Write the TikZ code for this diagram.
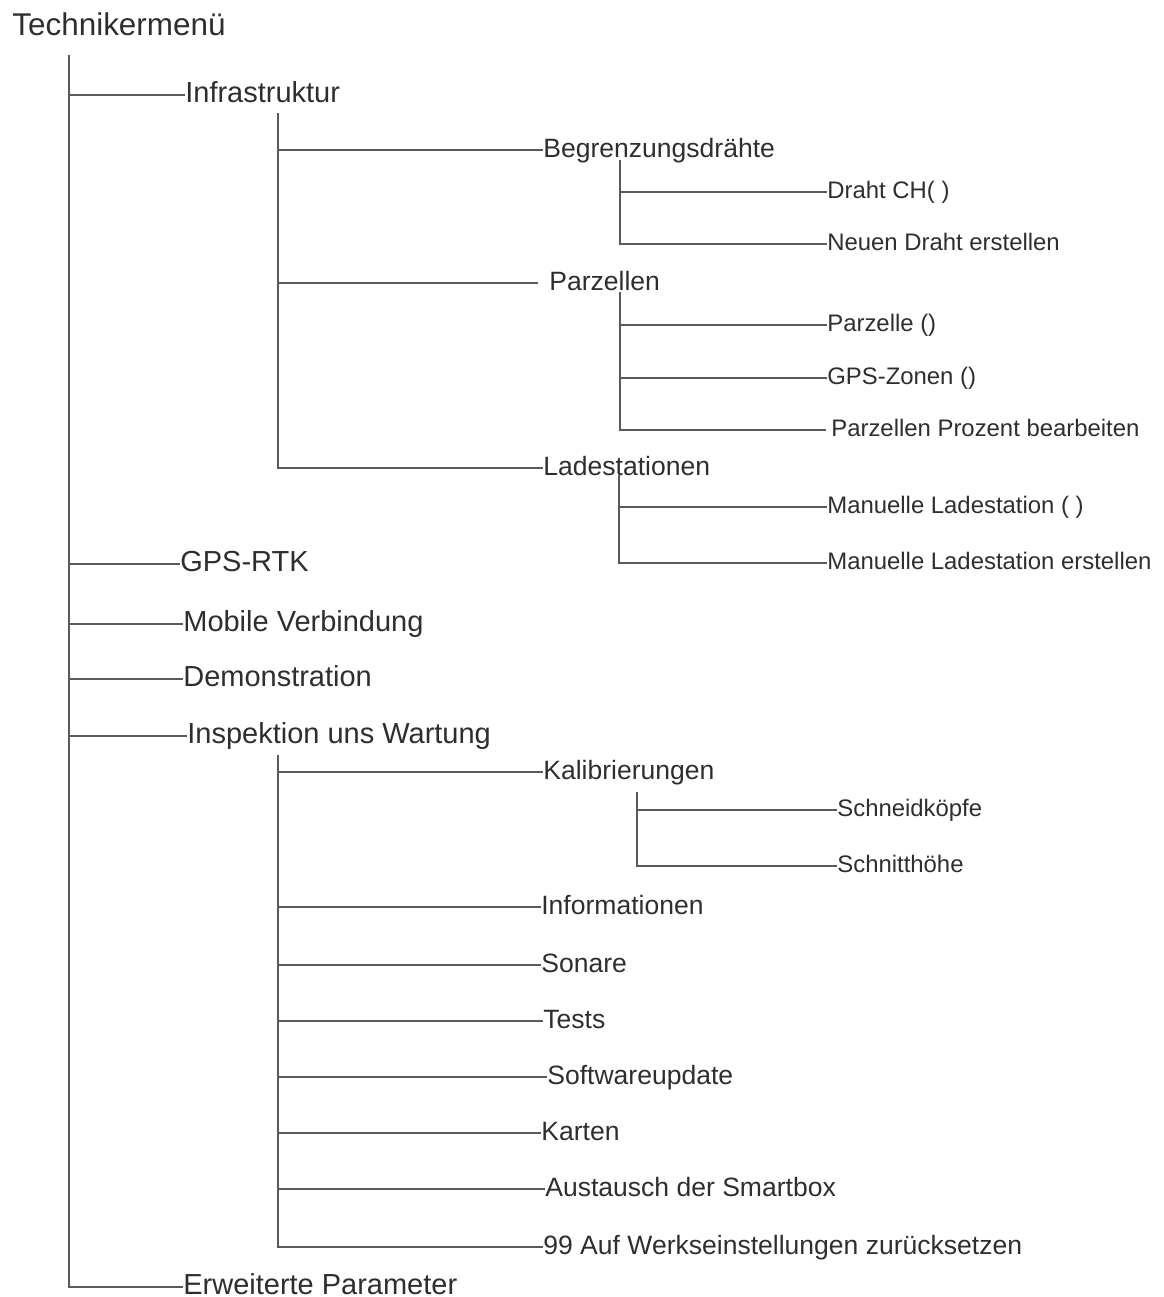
\documentclass[tikz,border=0pt]{standalone}
\usepackage{fontspec}
\setmainfont{Liberation Sans}
\usetikzlibrary{positioning}
\definecolor{menutext}{HTML}{2E2E2E}
\definecolor{menurule}{HTML}{5A5A5A}
\tikzset{
  menubox/.style={anchor=west, inner sep=0, text=menutext, text depth=0pt},
  menutitle/.style={anchor=base west, inner sep=0, text=menutext, font=\fontsize{17.9pt}{20pt}\selectfont},
  menuitem/.style={menubox, text height=9pt, font=\fontsize{16.5pt}{19pt}\selectfont},
  submenu/.style={menubox, text height=8.4pt, font=\fontsize{15.1pt}{18pt}\selectfont},
  menuleaf/.style={menubox, text height=7.5pt, font=\fontsize{13.6pt}{16pt}\selectfont},
  menuline/.style={draw=menurule, line width=0.9pt}
}

\begin{document}
\begin{tikzpicture}[x=0.02cm, y=-0.02cm]
    \useasboundingbox (0,0) rectangle (1163,1297);
    \node[menutitle] (root) at (12,36) {Technikermenü};
    % first level
    \coordinate (t0) at (69,55);
    \node[menuitem] (infra) at (185,95) {Infrastruktur};
    \node[menuitem] (gps) at (180,564) {GPS-RTK};
    \node[menuitem] (mobil) at (183,624) {Mobile Verbindung};
    \node[menuitem] (demo) at (183,679) {Demonstration};
    \node[menuitem] (insp) at (187,736) {Inspektion uns Wartung};
    \node[menuitem] (erw) at (183,1287) {Erweiterte Parameter};
    \foreach \n in {infra,gps,mobil,demo,insp,erw}
      \draw[menuline] (t0) |- (\n.west);
    % Infrastruktur
    \coordinate (t1) at (278,113);
    \node[submenu] (begr) at (543,150) {Begrenzungsdrähte};
    \node[submenu] (parz) at (549,283) {Parzellen};
    \node[submenu] (lade) at (543,468) {Ladestationen};
    \draw[menuline] (t1) |- (begr.west);
    \draw[menuline, shorten >=6pt] (t1) |- (parz.west);
    \draw[menuline] (t1) |- (lade.west);
    \coordinate (t11) at (620,160);
    \node[menuleaf] (draht) at (827,192) {Draht CH( )};
    \node[menuleaf] (neudraht) at (827,244) {Neuen Draht erstellen};
    \foreach \n in {draht,neudraht}
      \draw[menuline] (t11) |- (\n.west);
    \coordinate (t12) at (620,292);
    \node[menuleaf] (parzelle) at (827,325) {Parzelle ()};
    \node[menuleaf] (zonen) at (827,378) {GPS-Zonen ()};
    \node[menuleaf] (prozent) at (831,430) {Parzellen Prozent bearbeiten};
    \draw[menuline] (t12) |- (parzelle.west);
    \draw[menuline] (t12) |- (zonen.west);
    \draw[menuline, shorten >=3pt] (t12) |- (prozent.west);
    \coordinate (t13) at (619,475);
    \node[menuleaf] (manlade) at (827,507) {Manuelle Ladestation ( )};
    \node[menuleaf] (neulade) at (827,563) {Manuelle Ladestation erstellen};
    \foreach \n in {manlade,neulade}
      \draw[menuline] (t13) |- (\n.west);
    % Inspektion und Wartung
    \coordinate (t2) at (278,755);
    \node[submenu] (kalib) at (543,772) {Kalibrierungen};
    \node[submenu] (info) at (541,907) {Informationen};
    \node[submenu] (sonar) at (541,965) {Sonare};
    \node[submenu] (tests) at (543,1021) {Tests};
    \node[submenu] (update) at (547,1077) {Softwareupdate};
    \node[submenu] (karten) at (541,1133) {Karten};
    \node[submenu] (smartbox) at (545,1189) {Austausch der Smartbox};
    \node[submenu] (reset) at (543,1247) {99 Auf Werkseinstellungen zurücksetzen};
    \foreach \n in {kalib,info,sonar,tests,update,karten,smartbox,reset}
      \draw[menuline] (t2) |- (\n.west);
    \coordinate (t21) at (637,792);
    \node[menuleaf] (koepfe) at (837,810) {Schneidköpfe};
    \node[menuleaf] (hoehe) at (837,866) {Schnitthöhe};
    \foreach \n in {koepfe,hoehe}
      \draw[menuline] (t21) |- (\n.west);
\end{tikzpicture}
\end{document}
